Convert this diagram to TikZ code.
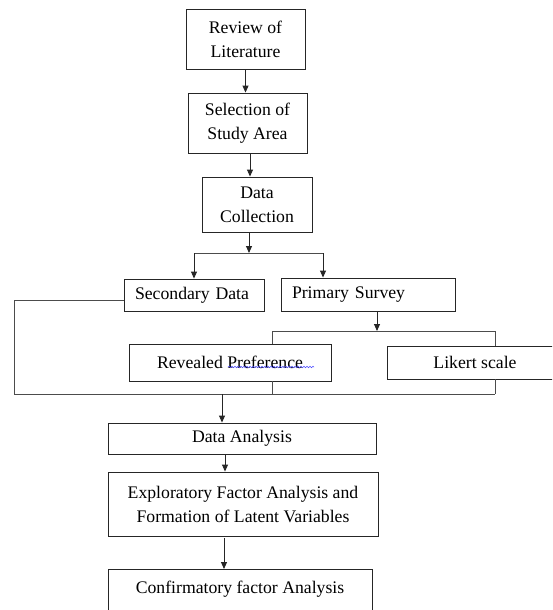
\documentclass[tikz,border=0pt]{standalone}
\usepackage{fontspec}
\setmainfont{Liberation Serif}
\usetikzlibrary{arrows.meta,decorations.pathmorphing}
\begin{document}
\begin{tikzpicture}[x=1pt,y=-1pt,
  box/.style={draw=black!85,line width=0.9pt,rectangle,inner sep=0pt,align=center,
    font=\fontsize{17.7}{24}\selectfont},
  arr/.style={line width=0.9pt,draw=black!85,-{Triangle[length=7pt,width=6pt]}},
  ln/.style={line width=0.9pt,draw=black!70},
  squiggle/.style={draw=blue!70,line width=0.5pt,decorate,
    decoration={snake,amplitude=0.8pt,segment length=3pt}}]
\clip (0,0) rectangle (552,610);
\fill[white] (0,0) rectangle (552,610);
% boxes
\node[box,minimum width=119,minimum height=60] (rev) at (245.5,39) {Review of\\Literature};
\node[box,minimum width=119,minimum height=60] (sel) at (247.5,123) {Selection of\\Study Area};
\node[box,minimum width=110,minimum height=55] (dc) at (257,204.5) {Data\\Collection};
\node[box,minimum height=32,text width=118pt,inner xsep=11pt,align=left] (sec) at (194,295) {Secondary Data};
\node[box,minimum height=33,text width=152pt,inner xsep=11pt,align=left] (pri) at (368,294.5) {Primary Survey};
\node[box,minimum width=202,minimum height=37] (rp) at (230,362.5) {Revealed Preference};
\node[box,minimum width=176,minimum height=33] (lik) at (475,362.5) {Likert scale};
\node[box,minimum width=268,minimum height=31] (da) at (242,438.5) {Data Analysis};
\node[box,minimum width=270,minimum height=64] (efa) at (243,504) {Exploratory Factor Analysis and\\Formation of Latent Variables};
\node[box,minimum width=264,minimum height=60,anchor=north] (cfa) at (240,569) {Confirmatory factor Analysis\\\mbox{}};
% spell-check underline
\draw[squiggle] (228,367) -- (314,367);
% coordinates
\coordinate (b1) at (249,253);
\coordinate (b1l) at (194,253);
\coordinate (b1r) at (323,253);
\coordinate (b2) at (377,331);
\coordinate (b2l) at (272,331);
\coordinate (b2r) at (495,331);
\coordinate (fl) at (14,300);
\coordinate (bl) at (14,394);
\coordinate (bm) at (222,394);
\coordinate (bx) at (272,394);
\coordinate (br) at (495,394);
% connectors
\draw[arr] (rev.south) -- (rev.south |- sel.north);
\draw[arr] ([xshift=2.5pt]sel.south) -- ([xshift=2.5pt]sel.south |- dc.north);
\draw[arr] (dc.south -| b1) -- (b1);
\draw[ln] (b1l) -- (b1r);
\draw[arr] (b1l) -- (sec.north);
\draw[arr] (b1r) -- (b1r |- pri.north);
\draw[ln] ([yshift=-5pt]sec.west) -- (fl) -- (bl) -- (br);
\draw[arr] (pri.south -| b2) -- (b2);
\draw[ln] (b2l |- rp.north) -- (b2l) -- (b2r) -- (b2r |- lik.north);
\draw[ln] (b2l |- rp.south) -- (bx);
\draw[ln] (b2r |- lik.south) -- (br);
\draw[arr] (bm) -- (bm |- da.north);
\draw[arr] (da.south -| 225,0) -- (efa.north -| 225,0);
\draw[arr] ([yshift=-2pt]efa.south -| 224,0) -- (cfa.north -| 224,0);
\end{tikzpicture}
\end{document}
